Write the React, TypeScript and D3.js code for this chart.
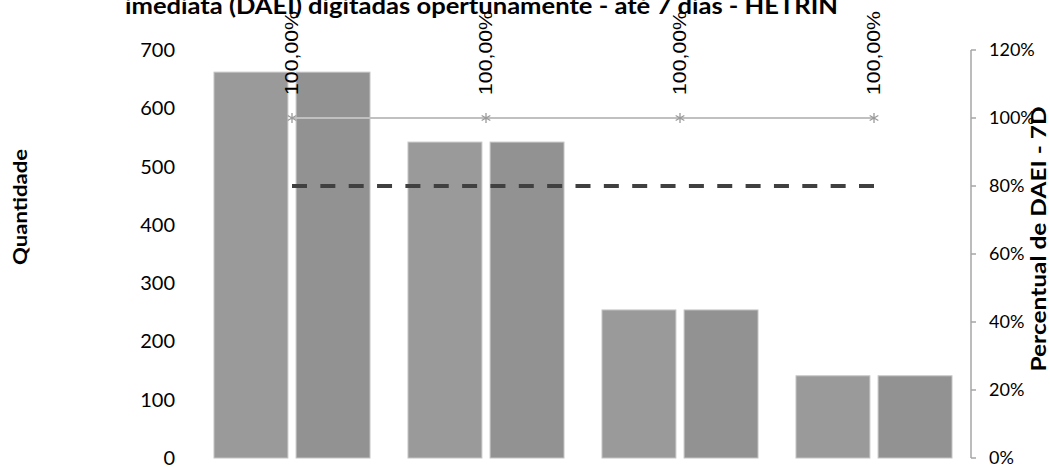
import React from "react";
import * as d3 from "d3";

const categories = ["P1", "P2", "P3", "P4"];
const notificadas = [662, 542, 254, 141];
const digitadas = [662, 542, 254, 141];
const percentual = [1.0, 1.0, 1.0, 1.0];
const meta = [0.8, 0.8, 0.8, 0.8];
const leftTicks = [0, 100, 200, 300, 400, 500, 600, 700];
const rightTicks = [0, 0.2, 0.4, 0.6, 0.8, 1.0, 1.2];
const titleLine = "imediata (DAEI) digitadas opertunamente - até 7 dias - HETRIN";
const leftLabel = "Quantidade";
const rightLabel = "Percentual de DAEI - 7D";

const W = 1050;
const H = 467;
const plotLeft = 195;
const plotRight = 971;
const plotTop = 50;
const plotBottom = 458;

export default function App() {
  const x0 = d3.scaleBand<string>().domain(categories).range([plotLeft, plotRight]).padding(0);
  const x1 = d3
    .scaleBand<string>()
    .domain(["a", "b"])
    .range([19, x0.bandwidth() - 19])
    .paddingInner(0.1);
  const yL = d3.scaleLinear().domain([0, 700]).range([plotBottom, plotTop]);
  const yR = d3.scaleLinear().domain([0, 1.2]).range([plotBottom, plotTop]);
  const cx = (c: string) => (x0(c) as number) + x0.bandwidth() / 2;

  const pctLine = d3
    .line<number>()
    .x((_, i) => cx(categories[i]))
    .y((d) => yR(d));

  const fmtPct = (v: number) => (v * 100).toFixed(2).replace(".", ",") + "%";
  const fmtAxisPct = d3.format(".0%");

  const star = (x: number, y: number) => {
    const r = 5;
    const a = r * 0.866;
    return `M${x},${y - r}L${x},${y + r}M${x - a},${y - r / 2}L${x + a},${y + r / 2}M${x - a},${y + r / 2}L${x + a},${y - r / 2}`;
  };

  const calibri = "Lato, Carlito, Calibri, sans-serif";
  const metaLen = cx(categories[categories.length - 1]) - cx(categories[0]);
  const dash = 15;
  const nPeriods = Math.round((metaLen - dash) / 28);
  const gap = (metaLen - dash) / nPeriods - dash;

  return (
    <svg
      width={W}
      height={H}
      style={{ position: "absolute", left: 0, top: 0, background: "#fff" }}
    >
      <rect width={W} height={H} fill="#fff" />
      {/* title (first line cut off above) */}
      <text
        x={481.5}
        y={14}
        textAnchor="middle"
        fontFamily={calibri}
        fontWeight="bold"
        fontSize={23}
        textLength={713}
        lengthAdjust="spacingAndGlyphs"
        fill="#000"
      >
        {titleLine}
      </text>

      {/* bars */}
      {categories.map((c, i) => (
        <g key={c} transform={`translate(${x0(c)},0)`}>
          <rect
            x={x1("a")}
            y={yL(notificadas[i])}
            width={x1.bandwidth()}
            height={plotBottom - yL(notificadas[i])}
            fill="#9a9a9a"
            stroke="#c4c4c4"
            strokeWidth={1}
          />
          <rect
            x={x1("b")}
            y={yL(digitadas[i])}
            width={x1.bandwidth()}
            height={plotBottom - yL(digitadas[i])}
            fill="#929292"
            stroke="#c4c4c4"
            strokeWidth={1}
          />
        </g>
      ))}

      {/* percent line */}
      <path d={pctLine(percentual) || ""} fill="none" stroke="#c0c0c0" strokeWidth={2} />
      {percentual.map((v, i) => (
        <path key={i} d={star(cx(categories[i]), yR(v))} stroke="#9a9a9a" strokeWidth={1.3} fill="none" />
      ))}

      {/* meta dashed line */}
      <path
        d={pctLine(meta) || ""}
        fill="none"
        stroke="#404040"
        strokeWidth={4}
        strokeDasharray={`${dash} ${gap}`}
      />

      {/* data labels */}
      {percentual.map((v, i) => (
        <text
          key={i}
          transform={`translate(${cx(categories[i]) + 6},${yR(v) - 23}) rotate(-90)`}
          fontFamily="'Liberation Sans', Arial, sans-serif"
          fontSize={18}
          textLength={84}
          lengthAdjust="spacingAndGlyphs"
          fill="#000"
        >
          {fmtPct(v)}
        </text>
      ))}

      {/* left axis labels */}
      {leftTicks.map((t) => (
        <text
          key={t}
          x={175}
          y={yL(t)}
          dy="0.35em"
          textAnchor="end"
          fontFamily={calibri}
          fontSize={20}
          fill="#000"
        >
          {t}
        </text>
      ))}

      {/* right axis */}
      <line x1={plotRight} x2={plotRight} y1={plotTop} y2={plotBottom} stroke="#a6a6a6" strokeWidth={1.5} />
      {rightTicks.map((t) => (
        <g key={t}>
          <line x1={plotRight} x2={plotRight + 5} y1={yR(t)} y2={yR(t)} stroke="#a6a6a6" strokeWidth={1.5} />
          <text
            x={989}
            y={yR(t)}
            dy="0.35em"
            textAnchor="start"
            fontFamily={calibri}
            fontSize={18}
            fill="#000"
          >
            {fmtAxisPct(t)}
          </text>
        </g>
      ))}

      {/* axis titles */}
      <text
        transform={`translate(27,207) rotate(-90)`}
        textAnchor="middle"
        fontFamily={calibri}
        fontWeight="bold"
        fontSize={19}
        textLength={116}
        lengthAdjust="spacingAndGlyphs"
        fill="#000"
      >
        {leftLabel}
      </text>
      <text
        transform={`translate(1046,239) rotate(-90)`}
        textAnchor="middle"
        fontFamily={calibri}
        fontWeight="bold"
        fontSize={20}
        textLength={265}
        lengthAdjust="spacingAndGlyphs"
        fill="#000"
      >
        {rightLabel}
      </text>
    </svg>
  );
}
